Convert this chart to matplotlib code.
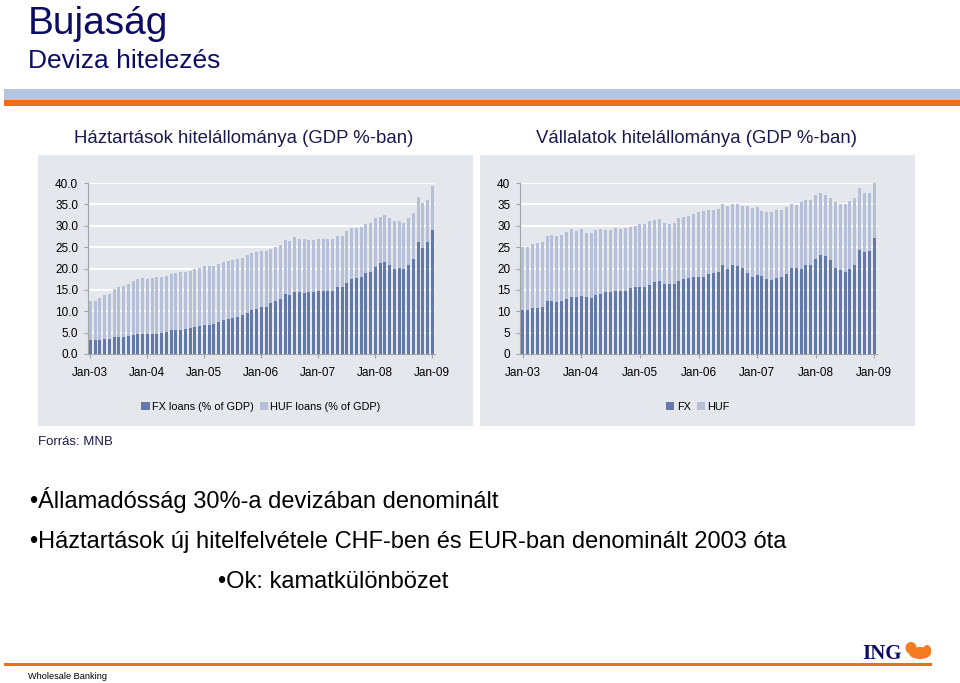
import matplotlib
matplotlib.use('Agg')
import matplotlib.pyplot as plt
from matplotlib.patches import Rectangle, Patch, Ellipse

plt.rcParams['font.family'] = ['Liberation Sans', 'DejaVu Sans']

# ---------------- data ----------------
tick_labels = ['Jan-03', 'Jan-04', 'Jan-05', 'Jan-06', 'Jan-07', 'Jan-08', 'Jan-09']

# Households (% of GDP), monthly Jan-03 .. Jan-09
hh_total = [12.5, 12.5, 13.1, 13.7, 14.1, 15.1, 15.6, 16.0, 16.4, 17.0, 17.5, 17.8,
            17.6, 17.8, 18.0, 18.1, 18.3, 18.7, 18.9, 19.1, 19.2, 19.5, 19.8, 20.2,
            20.5, 20.5, 20.6, 21.0, 21.5, 21.8, 21.9, 22.2, 22.5, 23.2, 23.6, 23.9,
            24.0, 24.0, 24.6, 25.1, 25.6, 26.6, 26.4, 27.3, 27.0, 26.8, 26.6, 26.6,
            26.9, 26.9, 26.9, 26.9, 27.6, 27.6, 28.7, 29.4, 29.5, 29.7, 30.4, 30.7,
            31.7, 32.1, 32.6, 31.8, 31.0, 31.1, 30.7, 31.9, 32.9, 36.8, 35.3, 36.1, 39.2]
hh_fx = [3.2, 3.2, 3.2, 3.4, 3.4, 3.9, 3.9, 3.9, 4.2, 4.5, 4.7, 4.7,
         4.7, 4.7, 4.7, 4.9, 5.2, 5.5, 5.6, 5.6, 5.8, 6.1, 6.3, 6.6,
         6.8, 6.8, 7.0, 7.5, 8.0, 8.3, 8.5, 8.7, 9.1, 9.7, 10.2, 10.5,
         11.0, 11.0, 12.0, 12.4, 12.9, 14.1, 13.9, 14.4, 14.6, 14.3, 14.4, 14.4,
         14.7, 14.7, 14.7, 14.8, 15.6, 15.6, 16.7, 17.5, 17.8, 18.1, 18.9, 19.2,
         20.4, 21.2, 21.5, 20.8, 19.8, 20.2, 19.9, 20.9, 22.2, 26.1, 24.9, 26.1, 29.0]

# Corporates (% of GDP), monthly Jan-03 .. Jan-09
corp_total = [25.1, 25.1, 25.8, 25.9, 26.3, 27.6, 27.9, 27.6, 27.9, 28.6, 29.2, 28.7,
              29.2, 28.4, 28.4, 29.0, 29.2, 29.0, 29.0, 29.5, 29.3, 29.5, 29.7, 30.0,
              30.3, 30.3, 31.0, 31.3, 31.6, 30.7, 30.3, 30.7, 31.7, 32.0, 32.3, 32.8,
              33.2, 33.4, 33.6, 33.6, 34.0, 35.0, 34.6, 35.2, 35.2, 34.7, 34.6, 34.2,
              34.3, 33.5, 33.1, 33.1, 33.6, 33.6, 34.4, 35.0, 34.8, 35.5, 36.1, 36.1,
              37.1, 37.6, 37.3, 36.6, 35.6, 35.0, 35.0, 35.9, 36.5, 38.9, 37.7, 37.7, 40.0]
corp_fx = [10.3, 10.3, 10.8, 10.8, 11.0, 12.4, 12.4, 12.1, 12.4, 12.8, 13.4, 13.4,
           13.6, 13.4, 13.1, 13.7, 14.1, 14.4, 14.4, 14.7, 14.7, 14.7, 15.4, 15.6,
           15.6, 15.6, 16.2, 16.8, 17.1, 16.4, 16.4, 16.4, 17.1, 17.5, 17.7, 18.0,
           17.9, 17.9, 18.6, 19.0, 19.2, 20.8, 20.0, 20.8, 20.5, 20.2, 19.0, 18.1,
           18.4, 18.2, 17.6, 17.3, 17.8, 18.1, 18.8, 20.2, 20.2, 20.0, 20.9, 20.9,
           22.2, 23.2, 22.9, 21.9, 20.2, 19.6, 19.1, 19.8, 20.9, 24.4, 23.8, 24.2, 27.1]

FX_COLOR = '#6379a9'
HUF_COLOR = '#b5bfd7'
PANEL = '#e4e7ec'
NAVY = '#0c0c66'
TEXTNAVY = '#1a1a50'

W, H = 960, 683
fig = plt.figure(figsize=(W / 100, H / 100), dpi=100)
fig.patch.set_facecolor('white')


def fx(x):
    return x / W


def fy(y):
    return 1 - y / H


def rect(x0, y0, x1, y1, color):
    fig.patches.append(Rectangle((fx(x0), fy(y1)), fx(x1) - fx(x0), fy(y0) - fy(y1),
                                 transform=fig.transFigure, facecolor=color,
                                 edgecolor='none', zorder=-1))


# header
fig.text(fx(28), fy(34), 'Bujaság', fontsize=28, color=NAVY, va='baseline', ha='left')
fig.text(fx(28), fy(68), 'Deviza hitelezés', fontsize=19, color=NAVY, va='baseline', ha='left')
rect(4, 89, 960, 100, '#b3c5e0')
rect(4, 100, 960, 106, '#f06c1c')

# panels
rect(38, 155, 473, 426, PANEL)
rect(480, 155, 915, 426, PANEL)

fig.text(fx(244), fy(143), 'Háztartások hitelállománya (GDP %-ban)', fontsize=13.4,
         color=TEXTNAVY, ha='center', va='baseline')
fig.text(fx(697), fy(143), 'Vállalatok hitelállománya (GDP %-ban)', fontsize=13.4,
         color=TEXTNAVY, ha='center', va='baseline')


def make_chart(box, total, fxv, xlim, yfmt, spacing_px):
    x0, y0, x1, y1 = box
    ax = fig.add_axes([fx(x0), fy(y1), fx(x1) - fx(x0), fy(y0) - fy(y1)])
    ax.set_zorder(2)
    ax.set_facecolor('none')
    pos = list(range(len(total)))
    bw = 3.0 / spacing_px
    ax.bar(pos, total, width=bw, color=HUF_COLOR, zorder=2, linewidth=0)
    ax.bar(pos, fxv, width=bw, color=FX_COLOR, zorder=3, linewidth=0)
    ax.set_xlim(*xlim)
    ax.set_ylim(0, 40)
    ax.set_yticks(range(0, 41, 5))
    ax.set_yticklabels([yfmt.format(v) for v in range(0, 41, 5)])
    ax.set_xticks(list(range(0, len(total), 12)))
    ax.set_xticklabels(tick_labels)
    ax.yaxis.grid(True, color='white', linewidth=1.4, zorder=1)
    ax.set_axisbelow(True)
    for s in ('top', 'right'):
        ax.spines[s].set_visible(False)
    for s in ('left', 'bottom'):
        ax.spines[s].set_color('#a0a4ab')
        ax.spines[s].set_linewidth(0.8)
    ax.tick_params(axis='both', colors='#a0a4ab', labelcolor='black', labelsize=8.5,
                   length=3, width=0.8)
    ax.tick_params(axis='x', pad=6)
    ax.tick_params(axis='y', pad=4)
    return ax


ax1 = make_chart((88, 183, 435, 354), hh_total, hh_fx, (-0.48, 72.57), '{:.1f}', 4.75)
ax2 = make_chart((520, 183, 877, 354), corp_total, corp_fx, (-0.55, 72.55), '{:d}', 4.88)

# legends
h_fx = Patch(facecolor=FX_COLOR, edgecolor='none')
h_huf = Patch(facecolor=HUF_COLOR, edgecolor='none')
fig.legend([h_fx, h_huf], ['FX loans (% of GDP)', 'HUF loans (% of GDP)'],
           loc='center', bbox_to_anchor=(fx(261), fy(407)), ncol=2, frameon=False,
           fontsize=7.8, handlelength=0.75, handleheight=0.75, handletextpad=0.2,
           columnspacing=0.6, borderpad=0)
fig.legend([h_fx, h_huf], ['FX', 'HUF'],
           loc='center', bbox_to_anchor=(fx(698), fy(407)), ncol=2, frameon=False,
           fontsize=7.8, handlelength=0.75, handleheight=0.75, handletextpad=0.2,
           columnspacing=0.6, borderpad=0)

fig.text(fx(38), fy(445), 'Forrás: MNB', fontsize=9.5, color=TEXTNAVY, ha='left', va='baseline')

# bullets
fig.text(fx(30), fy(508), '•Államadósság 30%-a devizában denominált', fontsize=17,
         color='black', ha='left', va='baseline')
fig.text(fx(30), fy(548), '•Háztartások új hitelfelvétele CHF-ben és EUR-ban denominált 2003 óta',
         fontsize=17, color='black', ha='left', va='baseline')
fig.text(fx(218), fy(588), '•Ok: kamatkülönbözet', fontsize=17, color='black',
         ha='left', va='baseline')

# footer
rect(4, 663, 932, 666, '#f06c1c')
fig.text(fx(28), fy(679), 'Wholesale Banking', fontsize=6.6, color='black', ha='left', va='baseline')
fig.text(fx(862), fy(659), 'ING', fontsize=15, fontweight='bold', color=NAVY,
         family=['Liberation Serif', 'DejaVu Serif'], ha='left', va='baseline')
for (cx, cy, w, h) in [(920, 653, 22, 12), (911, 648, 11, 12), (927, 650, 8, 10)]:
    fig.patches.append(Ellipse((fx(cx), fy(cy)), w / W, h / H, transform=fig.transFigure,
                               facecolor='#f47b20', edgecolor='none', zorder=1))

fig.savefig('out.png', dpi=100, facecolor='white')
